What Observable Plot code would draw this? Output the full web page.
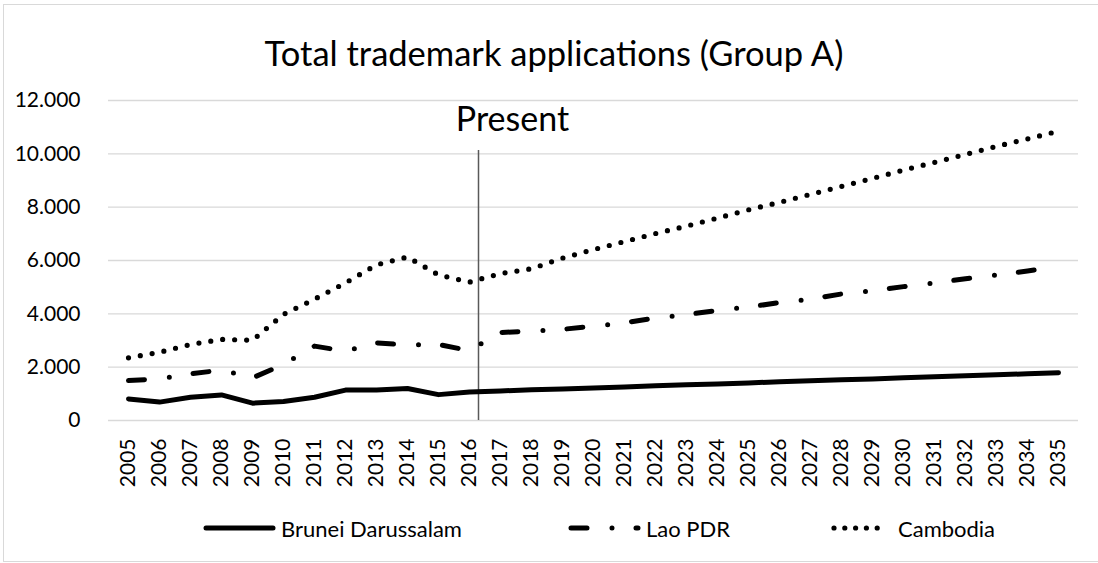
<!DOCTYPE html>
<html>
<head>
<meta charset="utf-8">
<script src="https://cdn.jsdelivr.net/npm/d3@7"></script>
<script src="https://cdn.jsdelivr.net/npm/@observablehq/plot@0.6"></script>
<style>
  html, body { margin: 0; padding: 0; background: #fff; }
  #chart { position: relative; width: 1098px; height: 563px; overflow: hidden; font-family: Lato, "Open Sans", sans-serif; color: #000; }
  #frame { position: absolute; left: 3px; top: 4px; width: 1200px; height: 558px; border: 1px solid #d9d9d9; box-sizing: border-box; }
  #title { position: absolute; left: 0; top: 32px; width: 1108px; text-align: center; font-size: 34.5px; line-height: 42px; white-space: nowrap; }
  #plot { position: absolute; left: 0; top: 0; }
  .leg { position: absolute; top: 514px; height: 28px; display: flex; align-items: center; font-size: 22px; white-space: nowrap; }
  .leg svg { display: block; margin-right: 4px; }
</style>
</head>
<body>
<div id="chart">
  <div id="frame"></div>
  <div id="plot"></div>
  <div id="title">Total trademark applications (Group A)</div>
  <div id="legend"></div>
</div>
<script>
// ---- data ----
const years = ["2005","2006","2007","2008","2009","2010","2011","2012","2013","2014","2015","2016",
  "2017","2018","2019","2020","2021","2022","2023","2024","2025","2026","2027","2028","2029","2030",
  "2031","2032","2033","2034","2035"];
const brunei = [810, 690, 870, 960, 650, 710, 870, 1140, 1140, 1200, 970, 1070,
  1110, 1150, 1180, 1220, 1260, 1300, 1340, 1370, 1410, 1450, 1490, 1530, 1560, 1600,
  1640, 1680, 1720, 1750, 1790];
const lao = [1500, 1560, 1750, 1890, 1600, 2100, 2790, 2600, 2910, 2830, 2850, 2620,
  3300, 3350, 3420, 3535, 3665, 3840, 3970, 4130, 4255, 4420, 4555, 4745, 4870, 5020,
  5160, 5315, 5460, 5605, 5770];
const cambodia = [2350, 2560, 2850, 3040, 3010, 3980, 4550, 5160, 5840, 6130, 5460, 5190,
  5510, 5690, 6090, 6410, 6710, 7010, 7290, 7590, 7900, 8180, 8480, 8780, 9080, 9390,
  9680, 9980, 10280, 10560, 10850];
const seriesNames = ["Brunei Darussalam", "Lao PDR", "Cambodia"];
const yTicks = [0, 2000, 4000, 6000, 8000, 10000, 12000];
const presentYear = "2016";
const presentLabel = "Present";

// ---- build ----
const styles = {
  "Brunei Darussalam": { strokeDasharray: null, strokeWidth: 5 },
  "Lao PDR": { strokeDasharray: "16,25,0,24", strokeWidth: 5 },
  "Cambodia": { strokeDasharray: "0,12", strokeWidth: 5.2 }
};
const seriesValues = [brunei, lao, cambodia];
const rowsFor = (vals) => years.map((yr, i) => ({ year: yr, v: vals[i] }));
const fmt = d3.formatLocale({ decimal: ",", thousands: ".", grouping: [3], currency: ["", ""] }).format(",");

const lineMarks = seriesNames.map((name, k) =>
  Plot.line(rowsFor(seriesValues[k]), {
    x: "year", y: "v", stroke: "#000",
    strokeWidth: styles[name].strokeWidth,
    strokeDasharray: styles[name].strokeDasharray,
    strokeLinecap: "round", strokeLinejoin: "round"
  })
);

const chart = Plot.plot({
  width: 1098, height: 563,
  marginLeft: 108, marginRight: 20, marginTop: 100, marginBottom: 143,
  style: { fontFamily: "Lato, 'Open Sans', sans-serif", fontSize: "21px", color: "#000", background: "transparent", overflow: "visible" },
  x: { type: "point", domain: years, padding: 0.5, label: null, tickSize: 0, tickRotate: -90, tickPadding: 18 },
  y: { domain: [0, 12000], ticks: yTicks, tickFormat: fmt, label: null, tickSize: 0, tickPadding: 28 },
  marks: [
    Plot.ruleY(yTicks, { stroke: "#d9d9d9", strokeWidth: 1.3 }),
    Plot.ruleX([presentYear], { y1: 0, y2: 10350, dx: 9, stroke: "#595959", strokeWidth: 1.5, insetBottom: -6 }),
    Plot.text([presentLabel], { x: () => presentYear, y: () => 11250, text: d => d, dx: 43, fontSize: 34, fill: "#000" }),
    ...lineMarks
  ]
});
document.getElementById("plot").appendChild(chart);

// ---- legend ----
const legend = document.getElementById("legend");
const legPos = [203, 568, 831];
seriesNames.forEach((name, k) => {
  const item = document.createElement("div");
  item.className = "leg";
  item.style.left = legPos[k] + "px";
  const ns = "http://www.w3.org/2000/svg";
  const svg = document.createElementNS(ns, "svg");
  svg.setAttribute("width", k === 2 ? 63 : 74); svg.setAttribute("height", 12);
  const ln = document.createElementNS(ns, "line");
  ln.setAttribute("x1", 3); ln.setAttribute("x2", k === 2 ? 56 : 70);
  ln.setAttribute("y1", 6); ln.setAttribute("y2", 6);
  ln.setAttribute("stroke", "#000");
  ln.setAttribute("stroke-width", styles[name].strokeWidth);
  ln.setAttribute("stroke-linecap", "round");
  if (styles[name].strokeDasharray) ln.setAttribute("stroke-dasharray", k === 2 ? "0,10.8" : styles[name].strokeDasharray);
  svg.appendChild(ln);
  item.appendChild(svg);
  const t = document.createElement("span");
  t.textContent = name;
  item.appendChild(t);
  legend.appendChild(item);
});
</script>
</body>
</html>
